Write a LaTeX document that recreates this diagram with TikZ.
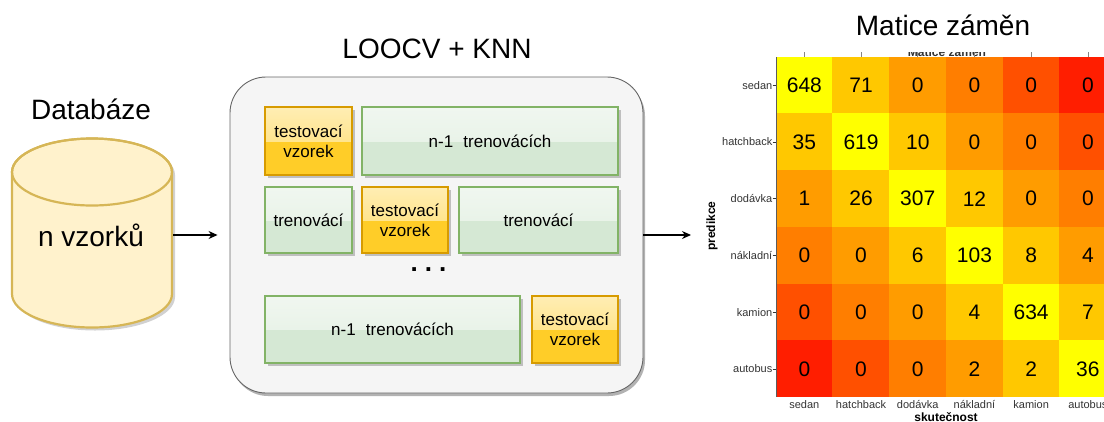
\documentclass[tikz,border=0pt]{standalone}
\usepackage{fontspec}
\setmainfont{Liberation Sans}
\usetikzlibrary{arrows.meta,shadows}
\definecolor{dbfill}{HTML}{FFF2CC}
\definecolor{dbdraw}{HTML}{D6B656}
\definecolor{grfill}{HTML}{D5E8D4}
\definecolor{grdraw}{HTML}{82B366}
\definecolor{orfill}{HTML}{FFCD28}
\definecolor{ordraw}{HTML}{D79B00}
\definecolor{panelfill}{HTML}{F5F5F5}
\definecolor{paneldraw}{HTML}{666666}
\definecolor{heat0}{HTML}{FFFF00}
\definecolor{heat1}{HTML}{FFC800}
\definecolor{heat2}{HTML}{FF9C00}
\definecolor{heat3}{HTML}{FF7E00}
\definecolor{heat4}{HTML}{FF5000}
\definecolor{heat5}{HTML}{FF1E00}
\definecolor{axisgray}{HTML}{333333}
\tikzset{
  title/.style={font=\fontsize{28}{30}\selectfont, anchor=base, inner sep=0},
  boxtext/.style={font=\fontsize{17}{20}\selectfont, align=center},
  glassbox/.style n args={2}{draw=#2, line width=1.2pt, inner sep=0,
    drop shadow={shadow xshift=2.5pt, shadow yshift=-2.5pt, opacity=0.22, fill=black},
    fill=#1,
    path picture={\shade[top color=#1!35!white, bottom color=#1!70!white]
      (path picture bounding box.north west) rectangle (path picture bounding box.east);}},
  trainbox/.style={glassbox={grfill}{grdraw}, boxtext},
  testbox/.style={glassbox={orfill}{ordraw}, boxtext},
  link/.style={-{Stealth[length=9pt,width=8pt]}, line width=1.2pt, black},
  cell/.style={minimum width=57.2pt, minimum height=57.2pt, inner sep=0,
    font=\fontsize{21}{23}\selectfont},
  axlabel/.style={font=\fontsize{11}{12}\selectfont, text=axisgray, inner sep=0},
  axtitle/.style={font=\fontsize{12}{13}\selectfont\bfseries, text=black, inner sep=0},
}
\begin{document}
\begin{tikzpicture}[x=1pt, y=-1pt]
\useasboundingbox (0,0) rectangle (1104,421);

% ---------- Database ----------
\node[title] (dbtitle) at (91,119) {Databáze};
\fill[black, opacity=0.18] (15,175) -- (15,297) arc[start angle=180, end angle=0, x radius=80, y radius=33.5]
  -- (175,175) arc[start angle=0, end angle=-180, x radius=80, y radius=33.5] -- cycle;
\filldraw[fill=dbfill, draw=dbdraw, line width=2.2pt]
  (12,172) -- (12,294) arc[start angle=180, end angle=0, x radius=80, y radius=33.5]
  -- (172,172) arc[start angle=0, end angle=-180, x radius=80, y radius=33.5] -- cycle;
\draw[draw=dbdraw, line width=2.2pt] (92,172) ellipse[x radius=80, y radius=33.5];
\node[font=\fontsize{28}{30}\selectfont, inner sep=0] (db) at (91,235) {n vzorků};
\coordinate (dbeast) at (173,235);

% ---------- LOOCV panel ----------
\node[title] (looTitle) at (437,58.5) {LOOCV + KNN};
\node[draw=paneldraw, line width=0.9pt, fill=panelfill, rounded corners=36pt,
      minimum width=413pt, minimum height=316pt, inner sep=0,
      drop shadow={shadow xshift=2pt, shadow yshift=-3pt, opacity=0.3, fill=black}]
      (panel) at (436.5,235) {};

\node[testbox, minimum width=87pt, minimum height=68pt] (t1) at (308.5,141) {testovací\\vzorek};
\node[trainbox, minimum width=256pt, minimum height=68pt] (g1) at (490,141) {n-1\hspace{0.6em}trenovácích};
\node[trainbox, minimum width=87pt, minimum height=66pt] (g2) at (308.5,220) {trenovácí};
\node[testbox, minimum width=86pt, minimum height=66pt] (t2) at (405,220) {testovací\\vzorek};
\node[trainbox, minimum width=159pt, minimum height=66pt] (g3) at (538.5,220) {trenovácí};
\node[font=\fontsize{26}{28}\selectfont\bfseries, inner sep=0] (dots) at (428.5,270) {.\hspace{7pt}.\hspace{7pt}.};
\node[trainbox, minimum width=255pt, minimum height=67pt] (g4) at (392.5,329.5) {n-1\hspace{0.6em}trenovácích};
\node[testbox, minimum width=86pt, minimum height=67pt] (t3) at (575,329.5) {testovací\\vzorek};

% ---------- connectors ----------
\draw[link, shorten >=12pt] (dbeast) -- (panel.west);
\coordinate (mxin) at (691,235);
\draw[link] (panel.east) -- (mxin);

% ---------- Matrix ----------
\node[title] (mtitle) at (943,35) {Matice záměn};
\begin{scope}
  \clip (850,52.5) rectangle (1050,57);
  \node[font=\fontsize{12}{13}\selectfont\bfseries, text=black!80, anchor=base, inner sep=0] (msmall) at (947,56.5) {Matice záměn};
\end{scope}
\foreach \r/\vals in {1/{648,71,0,0,0,0}, 2/{35,619,10,0,0,0}, 3/{1,26,307,12,0,0},
                      4/{0,0,6,103,8,4}, 5/{0,0,0,4,634,7}, 6/{0,0,0,2,2,36}} {
  \foreach \v [count=\c] in \vals {
    \pgfmathtruncatemacro\d{abs(\r-\c)}
    \node[cell, fill=heat\d] (c-\r-\c) at ({776+56.7*(\c-0.5)}, {57+56.7*(\r-0.5)}) {\v};
  }
}
\draw[axisgray!80, line width=1pt] (776,57) -- (776,397);
\foreach \c in {1,...,6} {
  \draw[axisgray!60, line width=0.6pt] ({776+56.7*(\c-0.5)},52) -- ({776+56.7*(\c-0.5)},57);
}
\foreach \lab [count=\r] in {sedan,hatchback,dodávka,nákladní,kamion,autobus} {
  \node[axlabel, anchor=east] (rl-\r) at (772.5, {57+56.7*(\r-0.5)}) {\lab};
  \draw[axisgray, line width=0.6pt] (772.5,{57+56.7*(\r-0.5)}) -- (776,{57+56.7*(\r-0.5)});
  \node[axlabel, anchor=base] (cl-\r) at ({776+56.7*(\r-0.5)}, 408.5) {\lab};
}
\node[axtitle, anchor=base] (xtitle) at (946,421.5) {skutečnost};
\node[axtitle, rotate=90] (ytitle) at (712,226) {predikce};
\end{tikzpicture}
\end{document}
